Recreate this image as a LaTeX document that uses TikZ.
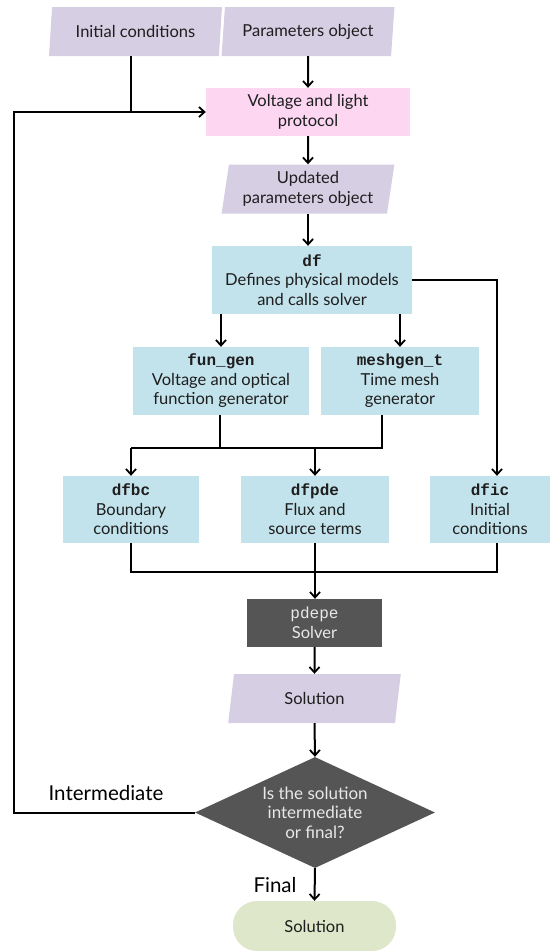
\documentclass[tikz,border=0pt]{standalone}
\usepackage{fontspec}
\setmainfont{Lato}
\setmonofont{Liberation Mono}
\usetikzlibrary{arrows.meta,shapes.geometric}
\definecolor{lav}{HTML}{D6CEE3}
\definecolor{pinkc}{HTML}{FDD7F2}
\definecolor{bluec}{HTML}{C3E3EC}
\definecolor{darkc}{HTML}{555555}
\definecolor{greenc}{HTML}{DEE7CA}
\definecolor{txt}{HTML}{1E1E1E}
\definecolor{lighttxt}{HTML}{E8E8E8}
\begin{document}
\begin{tikzpicture}[x=1pt,y=-1pt,
  ln/.style={line width=2pt, black},
  arr/.style={ln, -{Straight Barb[length=5.5pt,width=10pt,line width=1.8pt]}},
  base/.style={inner sep=0pt, align=center, text=txt, font=\fontsize{16.5}{19.5}\selectfont},
  box/.style={base, rectangle, fill=bluec},
  io/.style={base, trapezium, trapezium left angle=80, trapezium right angle=100,
     trapezium stretches=true, fill=lav, minimum height=49pt, minimum width=173pt},
  lbl/.style={inner sep=0pt, text=black, font=\fontsize{20.5}{24}\selectfont}]
\useasboundingbox (0,0) rectangle (557,951);

% nodes
\node[io] (ic) at (135.5,31.5) {Initial conditions};
\node[io] (par) at (308,31.5) {Parameters object};
\node[base, fill=pinkc, minimum width=204pt, minimum height=48pt] (prot) at (308,112) {Voltage and light\\protocol};
\node[io] (upd) at (308,189) {Updated\\parameters object};
\node[box, minimum width=200pt, minimum height=68pt] (df) at (312,280) {{\ttfamily\bfseries\fontsize{16}{19.5}\selectfont df}\\Defines physical models\\and calls solver};
\node[box, minimum width=176pt, minimum height=68pt] (fun) at (221,381) {{\ttfamily\bfseries\fontsize{16}{19.5}\selectfont fun\_gen}\\Voltage and optical\\function generator};
\node[box, minimum width=158pt, minimum height=68pt] (mesh) at (400,381) {{\ttfamily\bfseries\fontsize{16}{19.5}\selectfont meshgen\_t}\\Time mesh\\generator};
\node[box, minimum width=136pt, minimum height=67pt] (bc) at (131,509.5) {{\ttfamily\bfseries\fontsize{16}{19.5}\selectfont dfbc}\\Boundary\\conditions};
\node[box, minimum width=148pt, minimum height=67pt] (pde) at (315,509.5) {{\ttfamily\bfseries\fontsize{16}{19.5}\selectfont dfpde}\\Flux and\\source terms};
\node[box, minimum width=120pt, minimum height=67pt] (dfic) at (490,509.5) {{\ttfamily\bfseries\fontsize{16}{19.5}\selectfont dfic}\\Initial\\conditions};
\node[base, fill=darkc, text=lighttxt, minimum width=135pt, minimum height=48pt] (pdepe) at (314.5,623)
  {{\ttfamily\fontsize{16}{19.5}\selectfont pdepe}\\Solver};
\node[io, minimum width=173pt] (sol) at (314.5,698.5) {Solution};
\node[base, diamond, fill=darkc, text=lighttxt, aspect=2.16, minimum width=240pt, minimum height=111pt,
  font=\fontsize{17}{19.5}\selectfont] (dec) at (315,812.5) {Is the solution\\intermediate\\or final?};
\node[base, fill=greenc, rounded corners=24pt, minimum width=163pt, minimum height=50pt] (fin) at (314.5,926) {Solution};
\node[lbl] (intl) at (106,793) {Intermediate};
\node[lbl] (finl) at (275,885) {Final};

% helper coordinates
\coordinate (icj) at (131,112);
\coordinate (lp) at (14,812.5);
\coordinate (mj) at (382,448);
\coordinate (bj) at (497,572);

% connectors
\draw[ln] (ic.south -| icj) -- (icj);
\draw[arr] (dec.west) -- (lp) |- (prot.west);
\draw[arr] (par.south) -- (prot.north);
\draw[arr] (prot.south) -- (upd.north);
\draw[arr] (upd.south) -- (upd.south |- df.north);
\draw[arr] (df.east) -| ([xshift=7pt]dfic.north);
\draw[arr] (df.south -| fun.north) -- (fun.north);
\draw[arr] (df.south -| mesh.north) -- (mesh.north);
\draw[ln] (mesh.south -| mj) -- (mj) -- (bc.north |- mj);
\draw[ln] ([xshift=-1pt]fun.south) -- ([xshift=-1pt]fun.south |- mj);
\draw[arr] (bc.north |- mj) -- (bc.north);
\draw[arr] (pde.north |- mj) -- (pde.north);
\draw[ln] (bc.south) |- (bj) -- (dfic.south -| bj);
\draw[arr] (pde.south) -- (pde.south |- pdepe.north);
\draw[arr] (pdepe.south) -- (sol.north);
\draw[arr] (sol.south) -- (dec.north);
\draw[arr] (dec.south) -- (fin.north);
\end{tikzpicture}
\end{document}
